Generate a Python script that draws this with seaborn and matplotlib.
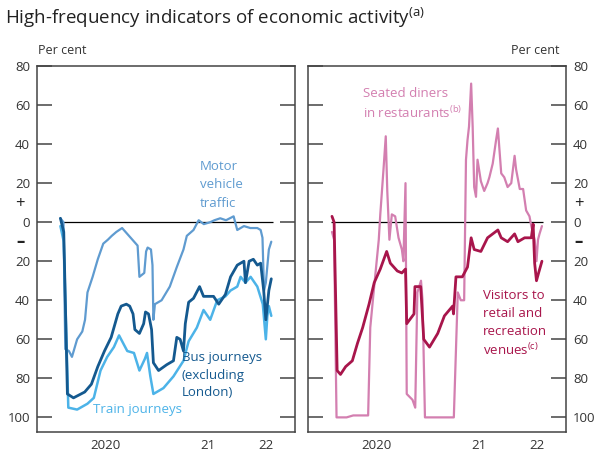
import pandas as pd
import matplotlib.pyplot as plt
import matplotlib.dates as mdates
import seaborn as sns


# Data (per cent difference from pre-Covid baseline)

traffic_dates = [
    "2020-03-05", "2020-03-15", "2020-03-21", "2020-04-02", "2020-04-12", "2020-04-29",
    "2020-05-16", "2020-05-25", "2020-06-02", "2020-06-19", "2020-07-06", "2020-07-24",
    "2020-08-08", "2020-08-21", "2020-09-05", "2020-09-24", "2020-10-11", "2020-10-28",
    "2020-11-14", "2020-11-20", "2020-12-06", "2020-12-12", "2020-12-17", "2020-12-28",
    "2021-01-02", "2021-01-05", "2021-01-10", "2021-02-01", "2021-02-28", "2021-03-23",
    "2021-04-14", "2021-04-25", "2021-05-17", "2021-06-03", "2021-06-20", "2021-07-11",
    "2021-07-25", "2021-08-13", "2021-09-01", "2021-09-26", "2021-10-08", "2021-10-30",
    "2021-11-20", "2021-12-13", "2021-12-24", "2021-12-30", "2022-01-04", "2022-01-10",
    "2022-01-20", "2022-01-28",
]
traffic = [
    2, 0, -65, -66, -69, -60,
    -56, -50, -36, -28, -19, -11,
    -9, -7, -5, -3, -6, -9,
    -12, -28, -26, -15, -13, -14,
    -22, -50, -42, -40, -33, -23,
    -14, -7, -4, 1, -1, 0,
    1, 2, 1, 3, -4, -2,
    -3, -3, -4, -8, -35, -31,
    -14, -10,
]

bus_dates = [
    "2020-03-05", "2020-03-16", "2020-03-28", "2020-04-17", "2020-05-24", "2020-06-15",
    "2020-07-06", "2020-07-28", "2020-08-19", "2020-09-10", "2020-09-21", "2020-10-08",
    "2020-10-19", "2020-10-30", "2020-11-05", "2020-11-20", "2020-12-04", "2020-12-10",
    "2020-12-20", "2020-12-30", "2021-01-05", "2021-01-22", "2021-02-18", "2021-03-12",
    "2021-03-23", "2021-04-03", "2021-04-14", "2021-04-20", "2021-05-01", "2021-05-17",
    "2021-06-06", "2021-06-19", "2021-07-22", "2021-08-08", "2021-08-30", "2021-09-16",
    "2021-10-08", "2021-10-30", "2021-11-04", "2021-11-16", "2021-11-30", "2021-12-13",
    "2021-12-24", "2022-01-03", "2022-01-10", "2022-01-20", "2022-01-28",
]
bus = [
    2, -5, -88, -90, -87, -83,
    -74, -66, -59, -47, -43, -42,
    -43, -47, -55, -57, -52, -46,
    -47, -55, -72, -76, -73, -71,
    -59, -60, -66, -52, -41, -39,
    -33, -38, -38, -42, -37, -28,
    -22, -20, -31, -20, -19, -22,
    -21, -35, -50, -35, -29,
]

train_dates = [
    "2020-03-05", "2020-03-16", "2020-03-31", "2020-04-29", "2020-06-02", "2020-06-23",
    "2020-07-15", "2020-08-06", "2020-08-28", "2020-09-14", "2020-10-11", "2020-11-02",
    "2020-11-20", "2020-12-08", "2020-12-15", "2020-12-26", "2021-01-05", "2021-02-07",
    "2021-03-12", "2021-04-14", "2021-05-01", "2021-05-28", "2021-06-19", "2021-07-11",
    "2021-08-03", "2021-08-30", "2021-09-16", "2021-10-08", "2021-10-19", "2021-11-04",
    "2021-11-21", "2021-12-13", "2021-12-31", "2022-01-10", "2022-01-15", "2022-01-20",
    "2022-01-28",
]
train = [
    -2, -10, -95, -96, -93, -90,
    -76, -69, -64, -58, -66, -67,
    -76, -70, -67, -79, -88, -85,
    -79, -71, -61, -54, -45, -50,
    -40, -38, -35, -33, -28, -31,
    -28, -33, -42, -60, -48, -43,
    -48,
]

diners_dates = [
    "2020-03-07", "2020-03-14", "2020-03-22", "2020-04-24", "2020-05-16", "2020-07-04",
    "2020-07-11", "2020-07-22", "2020-08-08", "2020-08-13", "2020-08-24", "2020-08-31",
    "2020-09-05", "2020-09-12", "2020-09-20", "2020-10-01", "2020-10-12", "2020-10-23",
    "2020-10-28", "2020-11-04", "2020-11-08", "2020-11-27", "2020-12-06", "2020-12-13",
    "2020-12-25", "2020-12-30", "2021-01-07", "2021-04-12", "2021-04-25", "2021-05-05",
    "2021-05-16", "2021-05-22", "2021-05-27", "2021-06-01", "2021-06-08", "2021-06-13",
    "2021-06-18", "2021-06-24", "2021-06-29", "2021-07-10", "2021-07-21", "2021-08-01",
    "2021-08-07", "2021-08-18", "2021-08-29", "2021-09-04", "2021-09-15", "2021-09-25",
    "2021-10-06", "2021-10-18", "2021-10-29", "2021-11-03", "2021-11-15", "2021-11-26",
    "2021-12-06", "2021-12-17", "2021-12-23", "2022-01-03", "2022-01-09", "2022-01-14",
    "2022-01-19", "2022-01-27",
]
diners = [
    -5, -9, -100, -100, -99, -99,
    -54, -36, -9, 4, 28, 44,
    16, -9, 4, 3, -8, -14,
    -20, 20, -88, -91, -95, -36,
    -30, -40, -100, -100, -36, -40,
    -40, 32, 42, 49, 71, 49,
    18, 13, 32, 21, 16, 20,
    23, 30, 42, 48, 25, 23,
    18, 20, 34, 27, 17, 17,
    6, 3, -2, -9, -20, -9,
    -6, -2,
]

retail_dates = [
    "2020-03-07", "2020-03-14", "2020-03-24", "2020-04-04", "2020-04-21", "2020-05-13",
    "2020-05-30", "2020-06-16", "2020-07-07", "2020-07-24", "2020-08-13", "2020-09-03",
    "2020-09-15", "2020-10-08", "2020-10-23", "2020-11-04", "2020-11-08", "2020-12-02",
    "2020-12-05", "2020-12-10", "2020-12-24", "2021-01-03", "2021-01-22", "2021-02-18",
    "2021-03-12", "2021-04-08", "2021-04-11", "2021-04-19", "2021-05-10", "2021-05-27",
    "2021-06-08", "2021-06-18", "2021-07-10", "2021-08-01", "2021-09-04", "2021-09-15",
    "2021-10-06", "2021-10-29", "2021-11-09", "2021-12-01", "2021-12-23", "2021-12-29",
    "2022-01-03", "2022-01-09", "2022-01-16", "2022-01-27",
]
retail = [
    3, 0, -76, -78, -74, -71,
    -62, -54, -42, -31, -24, -15,
    -21, -25, -26, -24, -52, -47,
    -33, -33, -33, -60, -64, -57,
    -48, -43, -47, -28, -28, -23,
    -8, -14, -15, -8, -4, -8,
    -10, -6, -10, -8, -8, -1,
    -21, -30, -26, -20,
]

month_ticks = pd.date_range("2020-03-01", "2021-12-01", freq="MS")
year_ticks = pd.to_datetime(["2021-01-01", "2022-01-01"])
x_labels = ["2020", "21", "22"]
x_label_dates = pd.to_datetime(["2020-08-01", "2021-07-02", "2022-01-10"])
y_ticks = list(range(-100, 81, 20))


# Styling
sns.set_style("white")
plt.rcParams["font.family"] = ["Open Sans", "DejaVu Sans"]

c_traffic = "#5f9bd0"
c_bus = "#14598f"
c_train = "#4cb3e8"
c_diners = "#d37fb0"
c_retail = "#a8154b"
c_text = "#333333"

fig = plt.figure(figsize=(5.98, 4.55), dpi=100)
ax1 = fig.add_axes([0.0619, 0.0505, 0.4314, 0.8044])
ax2 = fig.add_axes([0.515, 0.0505, 0.4314, 0.8044])

# Left panel: transport
sns.lineplot(x=pd.to_datetime(traffic_dates), y=traffic, ax=ax1, color=c_traffic, lw=1.6)
sns.lineplot(x=pd.to_datetime(train_dates), y=train, ax=ax1, color=c_train, lw=1.8)
sns.lineplot(x=pd.to_datetime(bus_dates), y=bus, ax=ax1, color=c_bus, lw=2.0)

# Right panel: hospitality and retail
sns.lineplot(x=pd.to_datetime(diners_dates), y=diners, ax=ax2, color=c_diners, lw=1.6)
sns.lineplot(x=pd.to_datetime(retail_dates), y=retail, ax=ax2, color=c_retail, lw=2.0)

for ax, side in [(ax1, "left"), (ax2, "right")]:
    ax.hlines(0, pd.Timestamp("2020-03-04"), pd.Timestamp("2022-02-01"), color="black", lw=0.9, zorder=1)
    ax.set_xlim(pd.Timestamp("2019-12-19"), pd.Timestamp("2022-04-16"))
    ax.set_ylim(-107.5, 80)
    ax.set_xlabel("")
    ax.set_ylabel("")
    ax.grid(False)
    for sp in ax.spines.values():
        sp.set_color("#444444")
        sp.set_linewidth(1.1)

    ax.set_yticks(y_ticks)
    ax.set_yticklabels([str(abs(v)) for v in y_ticks])
    ax.tick_params(axis="y", direction="in", length=11, width=1.1, color="#444444",
                   left=True, right=True, labelleft=(side == "left"),
                   labelright=(side == "right"), labelsize=9.5, labelcolor=c_text, pad=5)

    ax.set_xticks(year_ticks)
    ax.set_xticklabels([])
    ax.set_xticks([d for d in month_ticks if d not in year_ticks], minor=True)
    ax.tick_params(axis="x", which="major", direction="in", length=7, width=1.1, color="#444444")
    ax.tick_params(axis="x", which="minor", direction="in", length=3.5, width=0.9, color="#444444")
    for lab, d in zip(x_labels, x_label_dates):
        ax.text(mdates.date2num(d), -0.02, lab, transform=ax.get_xaxis_transform(),
                ha="center", va="top", fontsize=9.5, color=c_text)

# Series labels
ax1.text(mdates.date2num(pd.Timestamp("2021-06-08")), 32, "Motor\nvehicle\ntraffic",
         color=c_traffic, fontsize=9.5, ha="left", va="top", linespacing=1.55)
ax1.text(mdates.date2num(pd.Timestamp("2021-04-08")), -66, "Bus journeys\n(excluding\nLondon)",
         color=c_bus, fontsize=9.5, ha="left", va="top", linespacing=1.45)
ax1.text(mdates.date2num(pd.Timestamp("2020-06-21")), -96, "Train journeys",
         color=c_train, fontsize=9.5, ha="left", va="center")
ax2.text(mdates.date2num(pd.Timestamp("2020-06-18")), 69, "Seated diners\nin restaurants$^{\\mathregular{(b)}}$",
         color=c_diners, fontsize=9.5, ha="left", va="top", linespacing=1.35)
visitors = ax2.text(mdates.date2num(pd.Timestamp("2021-07-17")), -34, "Visitors to\nretail and\nrecreation",
                    color=c_retail, fontsize=9.5, ha="left", va="top", linespacing=1.5)
ax2.annotate("venues$^{\\mathregular{(c)}}$", xy=(0, 0), xycoords=visitors,
             xytext=(0, -12.5), textcoords="offset points",
             color=c_retail, fontsize=9.5, ha="left", va="baseline")

# Titles and axis notes
fig.text(0.008, 0.935, "High-frequency indicators of economic activity$^{\\mathregular{(a)}}$",
         fontsize=13.5, color="#222222", ha="left", va="bottom")
fig.text(0.063, 0.875, "Per cent", fontsize=9, color=c_text, ha="left", va="bottom")
fig.text(0.935, 0.875, "Per cent", fontsize=9, color=c_text, ha="right", va="bottom")
fig.text(0.034, 0.552, "+", fontsize=12, color="#222222", ha="center", va="center")
fig.text(0.034, 0.468, "\u2013", fontsize=12, color="#222222", ha="center", va="center", fontweight="bold")
fig.text(0.968, 0.552, "+", fontsize=12, color="#222222", ha="center", va="center")
fig.text(0.968, 0.468, "\u2013", fontsize=12, color="#222222", ha="center", va="center", fontweight="bold")

plt.savefig("out.png", dpi=100)
